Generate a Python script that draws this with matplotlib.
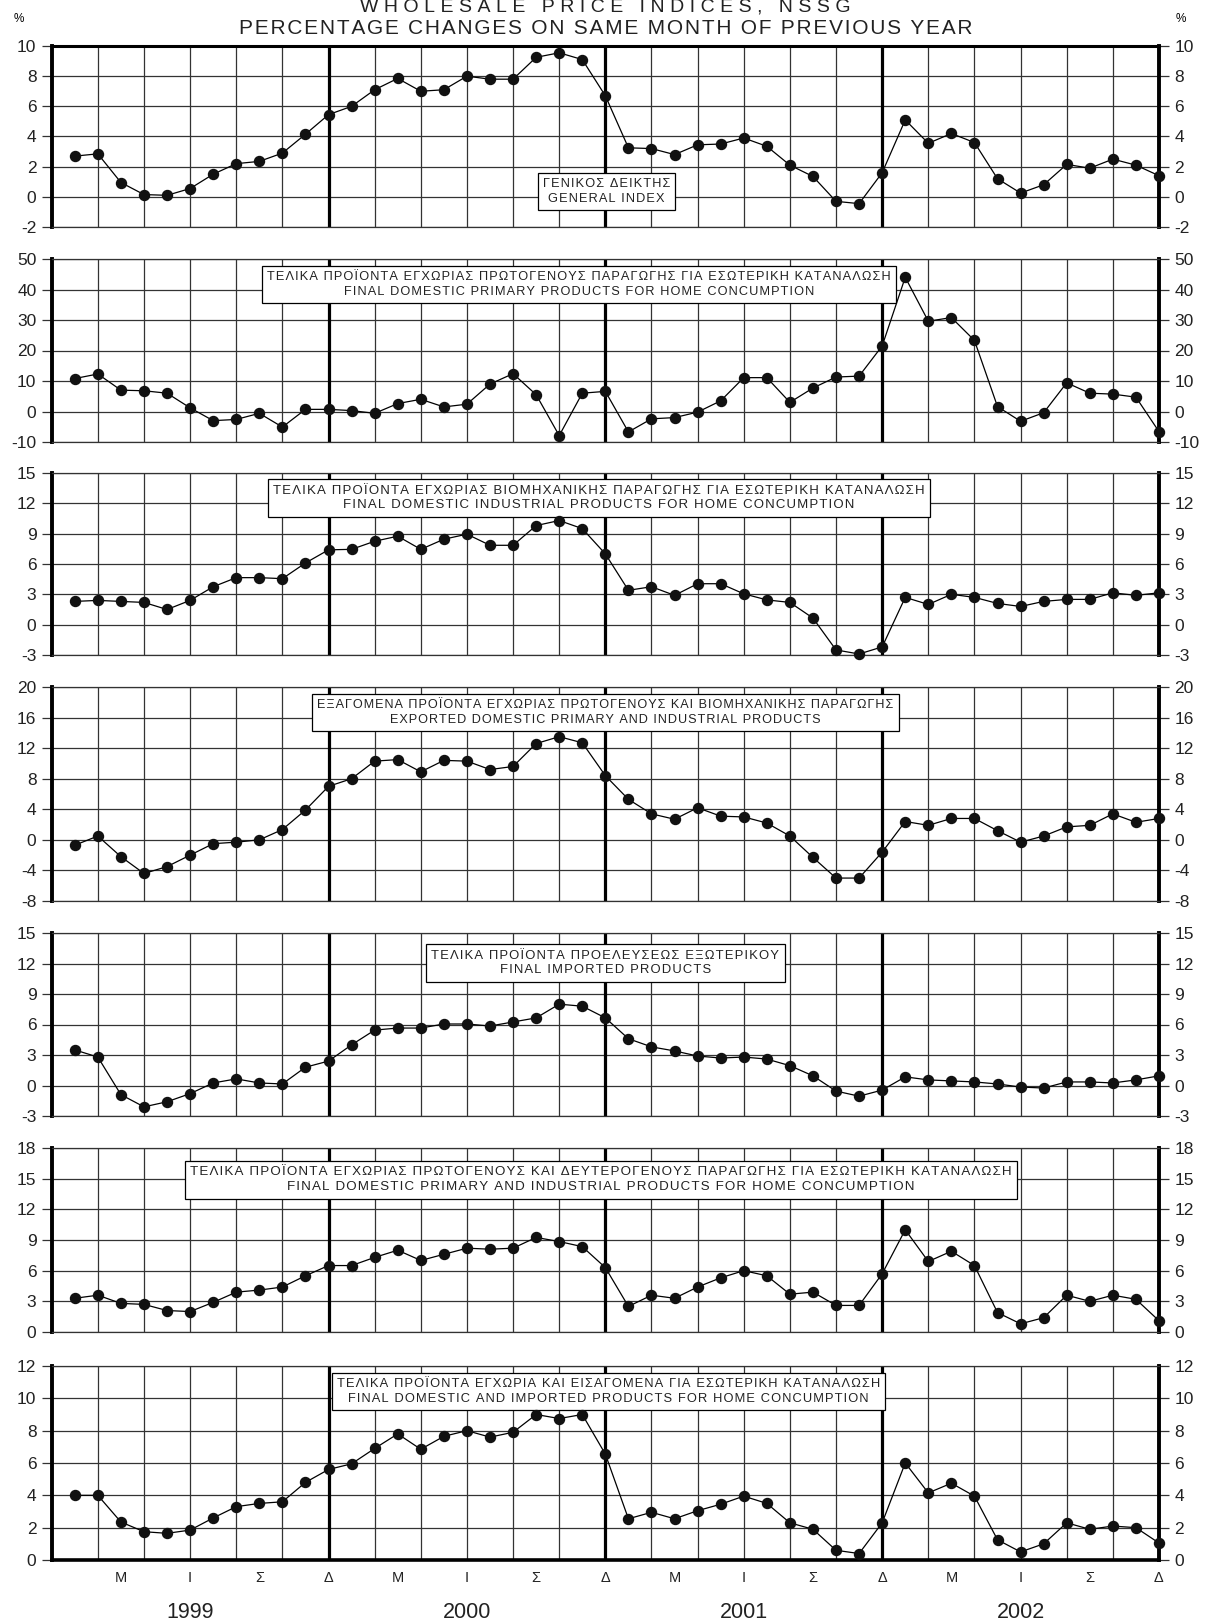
import numpy as np
import matplotlib
matplotlib.use('Agg')
import matplotlib.pyplot as plt

plt.rcParams['font.family'] = ['Liberation Sans', 'DejaVu Sans']
plt.rcParams['axes.unicode_minus'] = False

# months Jan 1999 .. Dec 2002
months = np.arange(1, 49)
month_labels = ['Μ', 'Ι', 'Σ', 'Δ'] * 4
month_label_pos = np.arange(3, 49, 3)
years = ['1999', '2000', '2001', '2002']
year_pos = [6, 18, 30, 42]

general_index = [2.7, 2.85, 0.95, 0.15, 0.1, 0.55, 1.5, 2.2, 2.35, 2.9, 4.15, 5.45,
                 6.0, 7.1, 7.85, 7.0, 7.1, 8.0, 7.8, 7.8, 9.25, 9.55, 9.1, 6.7,
                 3.25, 3.2, 2.8, 3.45, 3.5, 3.9, 3.35, 2.1, 1.35, -0.3, -0.45, 1.6,
                 5.1, 3.55, 4.2, 3.6, 1.2, 0.25, 0.8, 2.15, 1.9, 2.5, 2.1, 1.4]

primary_home = [10.8, 12.3, 7.0, 6.8, 6.0, 1.2, -3.0, -2.6, -0.6, -5.1, 0.7, 0.7,
                0.3, -0.6, 2.6, 4.0, 1.5, 2.4, 9.0, 12.4, 5.5, -7.9, 6.0, 6.6,
                -6.7, -2.4, -2.0, -0.2, 3.5, 11.1, 11.1, 3.0, 7.7, 11.3, 11.6, 21.5,
                44.0, 29.6, 30.8, 23.3, 1.6, -3.2, -0.4, 9.4, 6.0, 5.7, 4.7, -6.6]

industrial_home = [2.3, 2.4, 2.3, 2.2, 1.5, 2.4, 3.75, 4.65, 4.65, 4.55, 6.1, 7.4,
                   7.45, 8.25, 8.75, 7.45, 8.45, 8.95, 7.85, 7.85, 9.8, 10.3, 9.5, 7.0,
                   3.4, 3.75, 2.9, 4.05, 4.05, 3.05, 2.45, 2.2, 0.65, -2.5, -2.9, -2.2,
                   2.7, 2.0, 3.0, 2.7, 2.1, 1.8, 2.3, 2.5, 2.5, 3.15, 2.9, 3.15]

exported = [-0.7, 0.5, -2.2, -4.4, -3.5, -2.0, -0.5, -0.3, 0.0, 1.35, 3.9, 7.0,
            8.0, 10.3, 10.5, 8.9, 10.4, 10.3, 9.2, 9.6, 12.6, 13.5, 12.7, 8.4,
            5.3, 3.4, 2.7, 4.2, 3.1, 3.0, 2.2, 0.5, -2.3, -5.0, -5.0, -1.6,
            2.4, 1.9, 2.8, 2.8, 1.2, -0.3, 0.5, 1.7, 1.9, 3.4, 2.3, 2.8]

imported = [3.5, 2.8, -0.9, -2.1, -1.6, -0.8, 0.25, 0.65, 0.25, 0.15, 1.8, 2.4,
            4.0, 5.45, 5.65, 5.65, 6.05, 6.05, 5.85, 6.25, 6.65, 8.0, 7.8, 6.65,
            4.6, 3.8, 3.4, 2.9, 2.7, 2.8, 2.6, 1.95, 0.95, -0.55, -1.05, -0.45,
            0.85, 0.55, 0.45, 0.35, 0.15, -0.15, -0.25, 0.35, 0.35, 0.25, 0.55, 0.95]

prim_ind_home = [3.3, 3.6, 2.8, 2.7, 2.1, 2.0, 2.9, 3.9, 4.1, 4.4, 5.5, 6.5,
                 6.5, 7.3, 8.0, 7.0, 7.6, 8.2, 8.1, 8.2, 9.25, 8.85, 8.35, 6.3,
                 2.5, 3.6, 3.3, 4.4, 5.3, 6.0, 5.5, 3.7, 3.9, 2.6, 2.6, 5.7,
                 10.0, 6.9, 7.9, 6.5, 1.9, 0.8, 1.4, 3.6, 3.0, 3.6, 3.2, 1.1]

dom_imp_home = [4.0, 4.0, 2.35, 1.75, 1.65, 1.85, 2.6, 3.3, 3.5, 3.6, 4.8, 5.6,
                5.95, 6.9, 7.8, 6.85, 7.65, 8.0, 7.6, 7.9, 9.0, 8.75, 9.0, 6.55,
                2.55, 2.95, 2.55, 3.05, 3.45, 3.95, 3.5, 2.3, 1.9, 0.6, 0.4, 2.3,
                6.0, 4.15, 4.75, 3.95, 1.25, 0.5, 1.0, 2.3, 1.9, 2.1, 2.0, 1.05]

series = [general_index, primary_home, industrial_home, exported,
          imported, prim_ind_home, dom_imp_home]

y_limits = [(-2, 10, 2), (-10, 50, 10), (-3, 15, 3), (-8, 20, 4),
            (-3, 15, 3), (0, 18, 3), (0, 12, 2)]

titles = [
    ('ΓΕΝΙΚΟΣ ΔΕΙΚΤΗΣ', 'GENERAL INDEX'),
    ('ΤΕΛΙΚΑ ΠΡΟΪΟΝΤΑ ΕΓΧΩΡΙΑΣ ΠΡΩΤΟΓΕΝΟΥΣ ΠΑΡΑΓΩΓΗΣ ΓΙΑ ΕΣΩΤΕΡΙΚΗ ΚΑΤΑΝΑΛΩΣΗ',
     'FINAL DOMESTIC PRIMARY PRODUCTS FOR HOME CONCUMPTION'),
    ('ΤΕΛΙΚΑ ΠΡΟΪΟΝΤΑ ΕΓΧΩΡΙΑΣ ΒΙΟΜΗΧΑΝΙΚΗΣ ΠΑΡΑΓΩΓΗΣ ΓΙΑ ΕΣΩΤΕΡΙΚΗ ΚΑΤΑΝΑΛΩΣΗ',
     'FINAL DOMESTIC INDUSTRIAL PRODUCTS FOR HOME CONCUMPTION'),
    ('ΕΞΑΓΟΜΕΝΑ ΠΡΟΪΟΝΤΑ ΕΓΧΩΡΙΑΣ ΠΡΩΤΟΓΕΝΟΥΣ ΚΑΙ ΒΙΟΜΗΧΑΝΙΚΗΣ ΠΑΡΑΓΩΓΗΣ',
     'EXPORTED DOMESTIC PRIMARY AND INDUSTRIAL PRODUCTS'),
    ('ΤΕΛΙΚΑ ΠΡΟΪΟΝΤΑ ΠΡΟΕΛΕΥΣΕΩΣ ΕΞΩΤΕΡΙΚΟΥ', 'FINAL IMPORTED PRODUCTS'),
    ('ΤΕΛΙΚΑ ΠΡΟΪΟΝΤΑ ΕΓΧΩΡΙΑΣ ΠΡΩΤΟΓΕΝΟΥΣ ΚΑΙ ΔΕΥΤΕΡΟΓΕΝΟΥΣ ΠΑΡΑΓΩΓΗΣ ΓΙΑ ΕΣΩΤΕΡΙΚΗ ΚΑΤΑΝΑΛΩΣΗ',
     'FINAL DOMESTIC PRIMARY AND INDUSTRIAL PRODUCTS FOR HOME CONCUMPTION'),
    ('ΤΕΛΙΚΑ ΠΡΟΪΟΝΤΑ ΕΓΧΩΡΙΑ ΚΑΙ ΕΙΣΑΓΟΜΕΝΑ ΓΙΑ ΕΣΩΤΕΡΙΚΗ ΚΑΤΑΝΑΛΩΣΗ',
     'FINAL DOMESTIC AND IMPORTED PRODUCTS FOR HOME CONCUMPTION'),
]

# layout (pixels in a 1205x1623 figure)
W, H = 1205, 1623
X0, X1 = 51.7, 1159
panel_px = [(46, 227), (259, 442), (473, 655), (687, 901),
            (933, 1116), (1148, 1332), (1366, 1560)]
box_pos = [(0.501, 0.197), (0.476, 0.862), (0.494, 0.862), (0.5, 0.88),
           (0.5, 0.836), (0.496, 0.827), (0.503, 0.87)]
box_size = [9.15, 9.15, 9.5, 9.1, 9.4, 9.6, 9.25]

GRID = '#333333'


def spaced(s, sp='\u200a'):
    return sp.join(s)


fig = plt.figure(figsize=(W / 100, H / 100), dpi=100)

for i, (vals, (lo, hi, step), (gr, en)) in enumerate(zip(series, y_limits, titles)):
    top, bot = panel_px[i]
    ax = fig.add_axes([X0 / W, 1 - bot / H, (X1 - X0) / W, (bot - top) / H])
    ax.set_xlim(0, 48)
    ax.set_ylim(lo, hi)
    ax.set_yticks(np.arange(lo, hi + step, step))
    ax.yaxis.grid(True, color=GRID, lw=0.9)
    ax.set_axisbelow(True)
    for m in range(2, 48, 2):
        thick = m % 12 == 0
        ax.axvline(m, color='black' if thick else GRID, lw=2.3 if thick else 0.9, zorder=1)

    ax.tick_params(axis='y', left=True, right=True, labelleft=True, labelright=True,
                   length=7, width=0.9, color=GRID, pad=4, labelsize=12.5,
                   labelcolor='#222222')
    ax.set_yticklabels([str(v) for v in ax.get_yticks().astype(int)])

    for side in ('left', 'right'):
        ax.spines[side].set_linewidth(2.8)
    ax.spines['top'].set_linewidth(2.2 if i == 0 else 0.9)
    ax.spines['bottom'].set_linewidth(2.6 if i == 6 else 0.9)
    ax.spines['top'].set_color('black' if i == 0 else GRID)
    ax.spines['bottom'].set_color('black' if i == 6 else GRID)

    ax.plot(months, vals, color='black', lw=0.9, marker='o', ms=7.2,
            mfc='#111111', mec='#111111', zorder=5, clip_on=False)

    bx, by = box_pos[i]
    ax.text(bx, by, spaced(gr) + '\n' + spaced(en), transform=ax.transAxes,
            ha='center', va='center', fontsize=box_size[i], linespacing=1.3,
            color='#222222', zorder=4,
            bbox=dict(boxstyle='square,pad=0.4', fc='white', ec='black', lw=0.9))

    if i < 6:
        ax.set_xticks([])
    else:
        ax.set_xticks(month_label_pos)
        ax.set_xticklabels(month_labels, fontsize=10.5, color='#222222')
        ax.tick_params(axis='x', length=0, pad=8)
        for yr, pos in zip(years, year_pos):
            ax.text(pos, -0.27, yr, transform=ax.get_xaxis_transform(),
                    ha='center', va='center', fontsize=15.5, color='#222222')

    if i == 0:
        ax.text(-0.03, 1.15, '%', transform=ax.transAxes, ha='center', va='center', fontsize=8.5)
        ax.text(1.02, 1.15, '%', transform=ax.transAxes, ha='center', va='center', fontsize=8.5)

cx = (X0 + X1) / 2 / W
fig.text(cx, 1 - 7 / H, spaced('WHOLESALE PRICE INDICES, NSSG', '\u2009\u200a'),
         ha='center', va='center', fontsize=14, color='#222222')
fig.text(cx, 1 - 29 / H, spaced('PERCENTAGE CHANGES ON SAME MONTH OF PREVIOUS YEAR', '\u200a'),
         ha='center', va='center', fontsize=15, color='#222222')

fig.savefig('out.png', dpi=100, facecolor='white')
